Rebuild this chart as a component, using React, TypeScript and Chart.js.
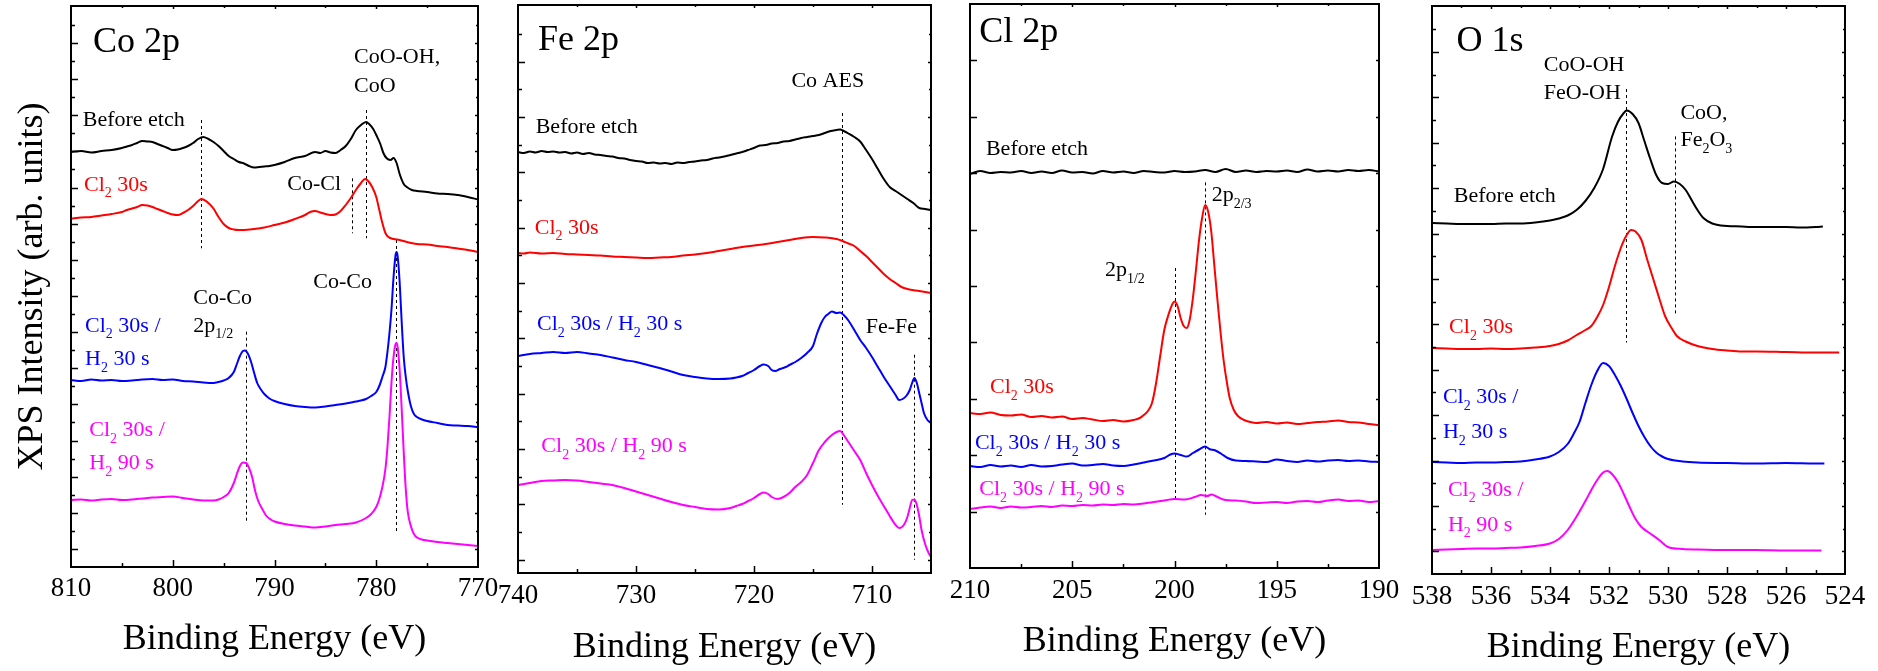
import React, { useEffect, useRef } from "react";
import { Chart, registerables } from "chart.js";

Chart.register(...registerables);

const FONT = '"Liberation Serif", "Times New Roman", Times, serif';
const CANVAS_H = 671;
const BLACK = "#000000";
const RED = "#ff0000";
const BLUE = "#0000ff";
const MAGENTA = "#ff00ff";

type Pt = [number, number];

// ---------------- Co 2p (binding energy eV, intensity arb.) ----------------
const coBefore: Pt[] = [[810,415],[809,416],[808,414.5],[807,416],[806,417],[805,419],[804.5,420.5],[804,422],[803.5,424],[803,426],[802.5,425.5],[802,425],[801.5,423],[801,421],[800.5,419],[800,417],[799.5,417.5],[799,419],[798.5,421],[798,424],[797.5,428],[797,430],[796.5,428],[796,425],[795.5,421],[795,416],[794.5,411],[794,408],[793.5,405],[793,403.5],[792.5,401],[792,399.5],[791.5,400],[791,400.5],[790.5,401],[790,402],[789,405],[788,409],[787,411],[786,415],[785.5,414],[785,416],[784.5,414.5],[784,414],[783.5,417],[783,421],[782.5,428],[782,437],[781.5,442],[781,445],[780.7,443],[780.3,438],[780,432],[779.6,423],[779.3,414],[779,409],[778.6,407],[778.3,409],[778,404],[777.7,393],[777.3,383],[777,380],[776.5,377],[776,376],[775,375],[774,373.5],[773,373],[772,372],[771,370],[770,367.5]];
const coCl30: Pt[] = [[810,348.5],[809,349.5],[808,350],[807,351.5],[806,353],[805,355],[804.5,357],[804,358.5],[803.5,360],[803,362],[802.5,361.5],[802,360],[801.5,358],[801,356],[800.5,354],[800,352.5],[799.5,352],[799,354],[798.5,357],[798,361],[797.5,366],[797.2,368],[797,367.5],[796.5,364],[796,358.5],[795.5,350],[795,343],[794.5,339],[794,337.5],[793.5,337],[793,337],[792,338],[791,339.5],[790,342],[789,344.5],[788,348],[787,352],[786.5,355],[786,356],[785.5,354.5],[785,353],[784.5,352],[784,352.5],[783.5,356],[783,362],[782.5,369],[782,377],[781.5,384],[781.1,388],[780.8,386],[780.4,380],[780,370],[779.7,357],[779.4,344],[779.1,334],[778.8,330],[778.3,328],[777.7,327],[777,325],[776,323],[775,322.5],[774,321],[773,320],[772,318.5],[771,317],[770,315]];
const coH30: Pt[] = [[810,187],[809,186],[808,187.5],[807,186.5],[806,187],[805,186],[804,186.5],[803,187.5],[802,188],[801,187],[800,187.5],[799,186],[798,185.5],[797,184.5],[796,184],[795.5,185],[795,186.5],[794.5,189],[794,195],[793.7,203],[793.4,211],[793.1,216],[792.9,216.5],[792.6,213],[792.3,205],[792,194],[791.7,184],[791.3,177],[791,173],[790.5,168.5],[790,166],[789,163],[788,161],[787,160],[786,159.5],[785,160.5],[784,162],[783,163.5],[782,165.5],[781.5,166.5],[781,168],[780.5,171],[780,175],[779.7,181],[779.4,190],[779.1,200],[778.9,215],[778.7,234],[778.5,258],[778.3,290],[778.1,312],[778,315],[777.9,311],[777.7,285],[777.5,245],[777.3,210],[777.1,190],[776.9,176],[776.6,161],[776.3,153],[776,150],[775.5,147.5],[775,146],[774,144],[773,142],[772,141.5],[771,141],[770,140]];
const coH90: Pt[] = [[810,67],[809,67.5],[808,66.5],[807,67.5],[806,68],[805,67],[804,67.5],[803,68.5],[802,69.5],[801,70],[800,70.5],[799,69],[798,67.5],[797,66.5],[796,66.5],[795.5,67.5],[795,70],[794.5,74],[794,84],[793.7,93],[793.4,101],[793.1,104.5],[792.8,104],[792.5,99],[792.2,90],[791.9,76],[791.6,66],[791.2,58],[790.8,51],[790.3,47],[790,45.5],[789,43],[788,41.5],[787,40.5],[786,39.5],[785,40.5],[784,42],[783,43],[782,44.5],[781,49],[780.5,53],[780,60],[779.7,68],[779.4,80],[779.1,98],[778.9,120],[778.7,150],[778.5,185],[778.3,210],[778.1,223],[778,224],[777.9,220],[777.7,197],[777.5,158],[777.3,115],[777.1,78],[776.9,55],[776.6,41],[776.3,33],[776,29.5],[775.5,27.5],[775,26.5],[774,25],[773,24],[772,23],[771,22],[770,21]];

// ---------------- Fe 2p ----------------
const feBefore: Pt[] = [[740,421],[739.5,420],[739,421.5],[738.5,420.5],[738,422],[737.5,421],[737,421.5],[736.5,420.5],[736,421],[735.5,419.5],[735,420.5],[734.5,419],[734,420],[733.5,418.5],[733,418],[732.5,417],[732,416.5],[731.5,415],[731,414.5],[730.5,413],[730,412],[729.5,411.5],[729,410],[728.5,410.5],[728,409.5],[727.5,410],[727,409],[726.5,410.5],[726,410],[725.5,411],[725,411.5],[724.5,412.5],[724,413],[723.5,414.5],[723,415.5],[722.5,416.5],[722,418],[721.5,419.5],[721,421],[720.5,423],[720,425],[719.5,427.5],[719,428],[718.5,429.5],[718,430],[717.5,431.5],[717,432],[716.5,433.5],[716,435],[715.5,436],[715,437],[714.5,438],[714,440],[713.5,442],[713,443],[712.7,443.5],[712.4,442],[712,439.5],[711.5,436],[711,431.5],[710.5,423],[710,414],[709.5,404],[709,394],[708.5,386],[708,382],[707.5,378],[707,374],[706.5,370],[706,365],[705.5,364],[705,363]];
const feCl30: Pt[] = [[740,320],[739.5,319.5],[739,320.5],[738,319.5],[737,320],[736,319],[735,318.5],[734,318],[733,317.5],[732,316.5],[731,316],[730,315.5],[729,315],[728,315.5],[727,316],[726,317.5],[725,318.5],[724,320],[723,322],[722,324],[721,326],[720,327.5],[719,329],[718,331],[717,333],[716,335],[715,336],[714,335.5],[713,334],[712.5,332],[712,329.5],[711.5,327],[711,322],[710.5,317],[710,311],[709.5,305],[709,299],[708.5,294],[708,290],[707.5,286],[707,284],[706,282],[705,280]];
const feH30: Pt[] = [[740,217],[739,219],[738,220],[737,221],[736,220],[735,221],[734,219.5],[733,218],[732,215.5],[731,213],[730,211],[729,208],[728,205],[727,201.5],[726,198],[725,196],[724,194.5],[723,194],[722,194.5],[721.5,195.5],[721,197],[720.5,200],[720,203],[719.5,207],[719.2,208.5],[718.8,207],[718.5,203],[718.2,202],[717.8,204],[717.3,206],[717,208],[716.5,211],[716,215],[715.5,220],[715,227],[714.7,238],[714.3,250],[714,256],[713.7,259],[713.4,261.5],[713,260],[712.7,260.5],[712.4,258],[712,252.5],[711.5,243],[711,233],[710.5,225],[710,216],[709.5,206],[709,196],[708.5,187],[708,178],[707.7,173],[707.4,174],[707.1,177],[706.8,183],[706.6,190],[706.4,195],[706.2,190],[706,180],[705.8,170],[705.6,160],[705.3,153],[705,150]];
const feH90: Pt[] = [[740,88],[739,90],[738,92],[737,92.5],[736,93],[735,92.5],[734,91],[733,89.5],[732,88],[731,85],[730,81.5],[729,78],[728,74.5],[727,71],[726,68],[725,66],[724,64],[723,63.5],[722,65],[721.5,67],[721,69],[720.5,72],[720,75],[719.5,79],[719.2,80.5],[718.8,79],[718.5,76],[718,74],[717.5,76],[717,80],[716.5,86],[716,91],[715.5,98],[715,110],[714.5,123],[714,131],[713.5,137],[713,141],[712.7,142],[712.4,138],[712,131],[711.5,122],[711,113],[710.5,100],[710,88],[709.5,77],[709,67],[708.5,57],[708,48],[707.7,45],[707.3,48],[707,56],[706.8,65],[706.6,73],[706.4,73.5],[706.2,68],[706,57],[705.8,43],[705.5,29],[705.2,20],[705,16]];

// ---------------- Cl 2p ----------------
const clBefore: Pt[] = [[210,394],[209.5,397],[209,395],[208.5,396],[208,395.5],[207.5,397],[207,395],[206.5,396.5],[206,395],[205.5,397.5],[205,395.5],[204.5,396],[204,394.5],[203.5,397],[203,395.5],[202.5,396.5],[202,395],[201.5,397],[201,396],[200.5,395.5],[200,397],[199.5,396],[199,396.5],[198.5,398],[198,396],[197.5,399],[197,396],[196.5,397.5],[196,396],[195.5,397],[195,396.5],[194.5,397.5],[194,396],[193.5,398.5],[193,396.5],[192.5,397.5],[192,396.5],[191.5,398],[191,397],[190.5,398],[190,396.5]];
const clCl30: Pt[] = [[210,155],[209.5,154],[209,155.5],[208.5,153],[208,152.5],[207.5,153.5],[207,151],[206.5,152],[206,150.5],[205.5,151.5],[205,149],[204.5,150],[204,148.5],[203.5,147],[203,148],[202.5,146.5],[202,148],[201.7,150],[201.5,153],[201.3,157],[201.1,165],[200.9,185],[200.7,212],[200.5,238],[200.3,253],[200.1,264],[200,266.5],[199.85,262],[199.7,250],[199.55,242],[199.4,240],[199.25,249],[199.1,270],[198.95,298],[198.8,328],[198.65,350],[198.5,363],[198.35,356],[198.2,336],[198.05,302],[197.9,268],[197.75,236],[197.6,208],[197.45,187],[197.3,170],[197.1,158],[196.9,152],[196.6,148],[196.3,146],[196,145],[195.5,146],[195,144.5],[194.5,145.5],[194,144],[193.5,145],[193,146],[192.5,146.5],[192,147.5],[191.5,146],[191,145.5],[190.5,144],[190,143]];
const clH30: Pt[] = [[210,102],[209.5,101],[209,103],[208.5,101.5],[208,102.5],[207.5,101],[207,103],[206.5,101.5],[206,102],[205.5,103.5],[205,104.5],[204.5,102.5],[204,103],[203.5,104],[203,102.5],[202.5,102],[202,103.5],[201.5,105.5],[201,107.5],[200.5,110],[200.2,113.5],[200,114.5],[199.7,113],[199.4,111.5],[199.1,115],[198.8,118.5],[198.5,121.5],[198.3,119],[198,117.5],[197.7,114],[197.4,110],[197,107.5],[196.5,107],[196,106.5],[195.5,106],[195,108.5],[194.5,107],[194,106],[193.5,107.5],[193,106.5],[192.5,107.5],[192,108],[191.5,107],[191,107.5],[190.5,106.5],[190,106]];
const clH90: Pt[] = [[210,59],[209.5,60.5],[209,61.5],[208.5,60],[208,61.5],[207.5,60.5],[207,61],[206.5,62],[206,61],[205.5,62.5],[205,62],[204.5,63],[204,62.5],[203.5,63.5],[203,63],[202.5,64],[202,63.5],[201.5,64.5],[201,66],[200.5,67.5],[200,69],[199.5,68.5],[199,71],[198.7,73],[198.4,72],[198.2,73.5],[197.9,71],[197.5,68],[197,67.5],[196.5,66.5],[196,65],[195.5,65.5],[195,66],[194.5,65],[194,66.5],[193.5,67],[193,66],[192.5,67.5],[192,68.5],[191.5,67],[191,67.5],[190.5,66],[190,67]];

// ---------------- O 1s ----------------
const oBefore: Pt[] = [[538,351],[537.5,350.5],[537,350],[536.5,350],[536,350],[535.5,350.5],[535,350.5],[534.5,351.5],[534,353.5],[533.7,355.5],[533.4,358.5],[533.1,364],[532.8,373],[532.5,386],[532.2,405],[531.9,437],[531.7,452],[531.5,461],[531.4,463.5],[531.2,460],[531,451],[530.8,433],[530.6,415],[530.4,399],[530.2,391],[530,390],[529.8,392.5],[529.6,390],[529.4,384],[529.2,374],[529,364],[528.8,356],[528.5,350.5],[528.2,348.5],[527.5,347.5],[527,347],[526.5,347],[526,347],[525.5,346.5],[525,347],[524.75,347.5]];
const oCl30: Pt[] = [[538,226],[537.5,225.5],[537,225],[536.5,225],[536,225.5],[535.5,225],[535,225.5],[534.5,226.5],[534,228],[533.7,230],[533.4,233.5],[533.1,239],[532.8,244],[532.6,248],[532.4,257],[532.2,269],[532,287],[531.8,308],[531.6,326],[531.4,339],[531.25,344],[531.1,342.5],[530.9,334],[530.7,314],[530.5,295],[530.3,276],[530.1,258],[529.9,247],[529.7,238],[529.4,232.5],[529,228],[528.5,225],[528,223.5],[527.5,222.5],[527,222.5],[526,222],[525,221.5],[524.2,221.5]];
const oH30: Pt[] = [[538,112],[537.5,111.5],[537,111],[536.5,111.5],[536,111.5],[535.5,112],[535,112.5],[534.5,114.5],[534,117.5],[533.7,122],[533.4,130],[533.2,140],[533,152],[532.8,171],[532.6,189],[532.4,203],[532.2,211],[532,208],[531.8,199],[531.6,188],[531.4,175],[531.2,161],[531,148],[530.8,137],[530.6,128],[530.4,121.5],[530.2,117.5],[530,115],[529.5,112.5],[529,111.5],[528,111],[527,110.5],[526,111],[525,110.5],[524.7,110.5]];
const oH90: Pt[] = [[538,24],[537.5,24.5],[537,25],[536.5,25.5],[536,25.5],[535.5,26],[535,26.5],[534.5,28],[534,30.5],[533.7,35],[533.4,44],[533.1,57.5],[532.8,73],[532.6,84],[532.4,94],[532.2,101.5],[532.05,103],[531.9,100],[531.7,92],[531.5,80],[531.3,67],[531.1,55],[530.9,47],[530.6,40.5],[530.3,34],[530,27],[529.5,25],[529,24.5],[528,24],[527,24],[526,23.5],[525,23.5],[524.8,23.5]];

type Series = { pts: Pt[]; color: string };
type Dash = { x: number; y1: number; y2: number };
type Label = { text: string; x: number; y: number; color: string; size: number };
type PanelDef = {
  left: number; top: number; right: number; bottom: number;
  padL: number; padR: number;
  xMin: number; xMax: number; xMajor: number; xMinor: number;
  yTick0: number; yTickStep: number; yMajorEvery: number;
  tickPad: number; titlePad: number;
  series: Series[]; dashes: Dash[]; labels: Label[]; yTitle?: boolean;
};

const H = 36; // heading size
const A = 22; // annotation size

const panels: PanelDef[] = [
  {
    left: 71, top: 6, right: 478, bottom: 567, padL: 71, padR: 45,
    xMin: 770, xMax: 810, xMajor: 10, xMinor: 5,
    yTick0: 18.07, yTickStep: 18.07, yMajorEvery: 2, tickPad: 6, titlePad: 9.9,
    series: [
      { pts: coBefore, color: BLACK }, { pts: coCl30, color: RED },
      { pts: coH30, color: BLUE }, { pts: coH90, color: MAGENTA },
    ],
    dashes: [
      { x: 797.2, y1: 447, y2: 318.7 }, { x: 781.0, y1: 457, y2: 328.7 },
      { x: 782.4, y1: 388.7, y2: 333.7 }, { x: 778.1, y1: 327, y2: 35.3 },
      { x: 792.8, y1: 235.3, y2: 43.7 },
    ],
    labels: [
      { text: "Co 2p", x: 807.84, y: 515, color: BLACK, size: H },
      { text: "CoO-OH,", x: 782.19, y: 503.7, color: BLACK, size: A },
      { text: "CoO", x: 782.19, y: 475.3, color: BLACK, size: A },
      { text: "Before etch", x: 808.85, y: 441, color: BLACK, size: A },
      { text: "Cl_{2} 30s", x: 808.72, y: 376.3, color: RED, size: A },
      { text: "Co-Cl", x: 788.74, y: 377, color: BLACK, size: A },
      { text: "Co-Co", x: 786.19, y: 278.7, color: BLACK, size: A },
      { text: "Co-Co", x: 797.98, y: 263, color: BLACK, size: A },
      { text: "2p_{1/2}", x: 797.98, y: 235.3, color: BLACK, size: A },
      { text: "Cl_{2} 30s /", x: 808.62, y: 235.3, color: BLUE, size: A },
      { text: "H_{2} 30 s", x: 808.62, y: 202, color: BLUE, size: A },
      { text: "Cl_{2} 30s /", x: 808.2, y: 131, color: MAGENTA, size: A },
      { text: "H_{2} 90 s", x: 808.2, y: 97.7, color: MAGENTA, size: A },
    ],
    yTitle: true,
  },
  {
    left: 518, top: 5, right: 931, bottom: 573, padL: 45, padR: 45,
    xMin: 705, xMax: 740, xMajor: 10, xMinor: 5,
    yTick0: 13.3, yTickStep: 27.67, yMajorEvery: 2, tickPad: 7, titlePad: 1.6,
    series: [
      { pts: feBefore, color: BLACK }, { pts: feCl30, color: RED },
      { pts: feH30, color: BLUE }, { pts: feH90, color: MAGENTA },
    ],
    dashes: [
      { x: 712.55, y1: 460, y2: 68.3 }, { x: 706.47, y1: 218.3, y2: 13.3 },
    ],
    labels: [
      { text: "Fe 2p", x: 738.3, y: 523.3, color: BLACK, size: H },
      { text: "Co AES", x: 716.83, y: 486, color: BLACK, size: A },
      { text: "Before etch", x: 738.5, y: 440, color: BLACK, size: A },
      { text: "Cl_{2} 30s", x: 738.58, y: 339.3, color: RED, size: A },
      { text: "Cl_{2} 30s / H_{2} 30 s", x: 738.39, y: 242.6, color: BLUE, size: A },
      { text: "Fe-Fe", x: 710.53, y: 240, color: BLACK, size: A },
      { text: "Cl_{2} 30s / H_{2} 90 s", x: 738.02, y: 120.6, color: MAGENTA, size: A },
    ],
  },
  {
    left: 970, top: 4, right: 1379, bottom: 568, padL: 45, padR: 45,
    xMin: 190, xMax: 210, xMajor: 5, xMinor: 2.5,
    yTick0: 56.4, yTickStep: 56.4, yMajorEvery: 1, tickPad: 7, titlePad: 8.3,
    series: [
      { pts: clBefore, color: BLACK }, { pts: clCl30, color: RED },
      { pts: clH30, color: BLUE }, { pts: clH90, color: MAGENTA },
    ],
    dashes: [
      { x: 199.98, y1: 300, y2: 68.3 }, { x: 198.49, y1: 385.6, y2: 53.3 },
    ],
    labels: [
      { text: "Cl 2p", x: 209.55, y: 525.6, color: BLACK, size: H },
      { text: "Before etch", x: 209.22, y: 413.3, color: BLACK, size: A },
      { text: "2p_{2/3}", x: 198.18, y: 366.6, color: BLACK, size: A },
      { text: "2p_{1/2}", x: 203.4, y: 291.6, color: BLACK, size: A },
      { text: "Cl_{2} 30s", x: 209.02, y: 175, color: RED, size: A },
      { text: "Cl_{2} 30s / H_{2} 30 s", x: 209.76, y: 119, color: BLUE, size: A },
      { text: "Cl_{2} 30s / H_{2} 90 s", x: 209.55, y: 72.6, color: MAGENTA, size: A },
    ],
  },
  {
    left: 1432, top: 6, right: 1845, bottom: 574, padL: 45, padR: 33,
    xMin: 524, xMax: 538, xMajor: 2, xMinor: 1,
    yTick0: 22.7, yTickStep: 22.7, yMajorEvery: 2, tickPad: 7, titlePad: 1.6,
    series: [
      { pts: oBefore, color: BLACK }, { pts: oCl30, color: RED },
      { pts: oH30, color: BLUE }, { pts: oH90, color: MAGENTA },
    ],
    dashes: [
      { x: 531.43, y1: 485, y2: 231.6 }, { x: 529.76, y1: 437.6, y2: 259.3 },
    ],
    labels: [
      { text: "O 1s", x: 537.17, y: 522.6, color: BLACK, size: H },
      { text: "CoO-OH", x: 534.21, y: 502.6, color: BLACK, size: A },
      { text: "FeO-OH", x: 534.21, y: 475, color: BLACK, size: A },
      { text: "CoO,", x: 529.58, y: 455, color: BLACK, size: A },
      { text: "Fe_{2}O_{3}", x: 529.58, y: 427.6, color: BLACK, size: A },
      { text: "Before etch", x: 537.26, y: 371.6, color: BLACK, size: A },
      { text: "Cl_{2} 30s", x: 537.42, y: 241, color: RED, size: A },
      { text: "Cl_{2} 30s /", x: 537.63, y: 171, color: BLUE, size: A },
      { text: "H_{2} 30 s", x: 537.63, y: 136, color: BLUE, size: A },
      { text: "Cl_{2} 30s /", x: 537.46, y: 78.3, color: MAGENTA, size: A },
      { text: "H_{2} 90 s", x: 537.46, y: 43.3, color: MAGENTA, size: A },
    ],
  },
];

function drawRich(ctx: CanvasRenderingContext2D, text: string, x: number, y: number, size: number, color: string) {
  const parts = text.split(/(_\{[^}]*\})/);
  let cx = x;
  ctx.fillStyle = color;
  ctx.textAlign = "left";
  ctx.textBaseline = "alphabetic";
  for (const p of parts) {
    if (!p) continue;
    const sub = p.startsWith("_{");
    const t = sub ? p.slice(2, -1) : p;
    const fs = sub ? Math.round(size * 0.64) : size;
    ctx.font = `${fs}px ${FONT}`;
    ctx.fillText(t, cx, sub ? y + size * 0.3 : y);
    cx += ctx.measureText(t).width;
  }
}

function Panel({ def }: { def: PanelDef }) {
  const ref = useRef<HTMLCanvasElement | null>(null);
  const width = def.right - def.left + def.padL + def.padR;
  const yMax = def.bottom - def.top;

  useEffect(() => {
    const canvas = ref.current;
    if (!canvas) return;
    const overlay = {
      id: "xpsOverlay",
      beforeDatasetsDraw(chart: any) {
        const { ctx, scales } = chart;
        const x = scales.x, y = scales.y;
        ctx.save();
        ctx.strokeStyle = "#000";
        ctx.lineWidth = 1;
        ctx.setLineDash([3, 3]);
        for (const d of def.dashes) {
          const px = Math.round(x.getPixelForValue(d.x)) + 0.5;
          ctx.beginPath();
          ctx.moveTo(px, y.getPixelForValue(d.y1));
          ctx.lineTo(px, y.getPixelForValue(d.y2));
          ctx.stroke();
        }
        ctx.restore();
      },
      afterDatasetsDraw(chart: any) {
        const { ctx, chartArea: a, scales } = chart;
        const x = scales.x, y = scales.y;
        ctx.save();
        ctx.strokeStyle = "#000";
        ctx.lineWidth = 1.5;
        // x ticks (bottom inward, top small)
        const n = Math.round((def.xMax - def.xMin) / def.xMinor);
        for (let k = 1; k < n; k++) {
          const v = def.xMin + k * def.xMinor;
          const r = v / def.xMajor;
          const major = Math.abs(r - Math.round(r)) < 1e-6;
          const px = Math.round(x.getPixelForValue(v)) + 0.5;
          ctx.beginPath();
          ctx.moveTo(px, a.bottom);
          ctx.lineTo(px, a.bottom - (major ? 7 : 4));
          ctx.moveTo(px, a.top);
          ctx.lineTo(px, a.top + (major ? 3 : 2));
          ctx.stroke();
        }
        // y ticks (left inward, right small)
        for (let k = 0; ; k++) {
          const v = def.yTick0 + k * def.yTickStep;
          if (v > yMax - 2) break;
          const major = k % def.yMajorEvery === 0;
          const py = Math.round(y.getPixelForValue(v)) + 0.5;
          ctx.beginPath();
          ctx.moveTo(a.left, py);
          ctx.lineTo(a.left + (major ? 7 : 4), py);
          ctx.moveTo(a.right, py);
          ctx.lineTo(a.right - (major ? 3 : 2), py);
          ctx.stroke();
        }
        // frame
        ctx.lineWidth = 2;
        ctx.strokeRect(a.left, a.top, a.right - a.left, a.bottom - a.top);
        // labels
        for (const l of def.labels) {
          drawRich(ctx, l.text, x.getPixelForValue(l.x), y.getPixelForValue(l.y), l.size, l.color);
        }
        if (def.yTitle) {
          ctx.save();
          ctx.translate(33, 286.5);
          ctx.rotate(-Math.PI / 2);
          ctx.font = `36px ${FONT}`;
          ctx.fillStyle = "#000";
          ctx.textAlign = "center";
          ctx.textBaseline = "middle";
          ctx.fillText("XPS Intensity (arb. units)", 0, 0);
          ctx.restore();
        }
        ctx.restore();
      },
    };

    const chart = new Chart(canvas, {
      type: "line",
      data: {
        datasets: def.series.map((s) => ({
          data: s.pts.map(([e, v]) => ({ x: e, y: v })),
          borderColor: s.color,
          backgroundColor: s.color,
          borderWidth: 2,
          pointRadius: 0,
          fill: false,
          cubicInterpolationMode: "monotone" as const,
        })),
      },
      options: {
        responsive: false,
        animation: false,
        events: [],
        devicePixelRatio: 1,
        layout: { padding: { left: def.padL, right: def.padR, top: def.top, bottom: 0 } },
        plugins: { legend: { display: false }, tooltip: { enabled: false } },
        scales: {
          x: {
            type: "linear",
            reverse: true,
            min: def.xMin,
            max: def.xMax,
            grid: { display: false, drawTicks: false },
            border: { display: false },
            afterFit: (scale: any) => {
              scale.height = CANVAS_H - def.bottom;
            },
            ticks: {
              stepSize: def.xMajor,
              autoSkip: false,
              maxRotation: 0,
              includeBounds: false,
              padding: def.tickPad,
              color: "#000",
              font: { family: FONT, size: 27 },
              callback: (val: any) => {
                const v = Number(val);
                const r = v / def.xMajor;
                return Math.abs(r - Math.round(r)) < 1e-6 ? String(Math.round(v)) : "";
              },
            },
            title: {
              display: true,
              text: "Binding Energy (eV)",
              color: "#000",
              font: { family: FONT, size: 36 },
              padding: { top: 0, bottom: def.titlePad },
            },
          },
          y: { type: "linear", display: false, min: 0, max: yMax },
        },
      },
      plugins: [overlay],
    } as any);
    return () => chart.destroy();
  }, [def]);

  return (
    <canvas
      ref={ref}
      width={width}
      height={CANVAS_H}
      style={{ position: "absolute", left: def.left - def.padL, top: 0, width, height: CANVAS_H }}
    />
  );
}

export default function App() {
  return (
    <div style={{ position: "absolute", left: 0, top: 0, width: 1878, height: CANVAS_H, background: "#fff", overflow: "hidden" }}>
      {panels.map((p, i) => (
        <Panel key={i} def={p} />
      ))}
    </div>
  );
}
